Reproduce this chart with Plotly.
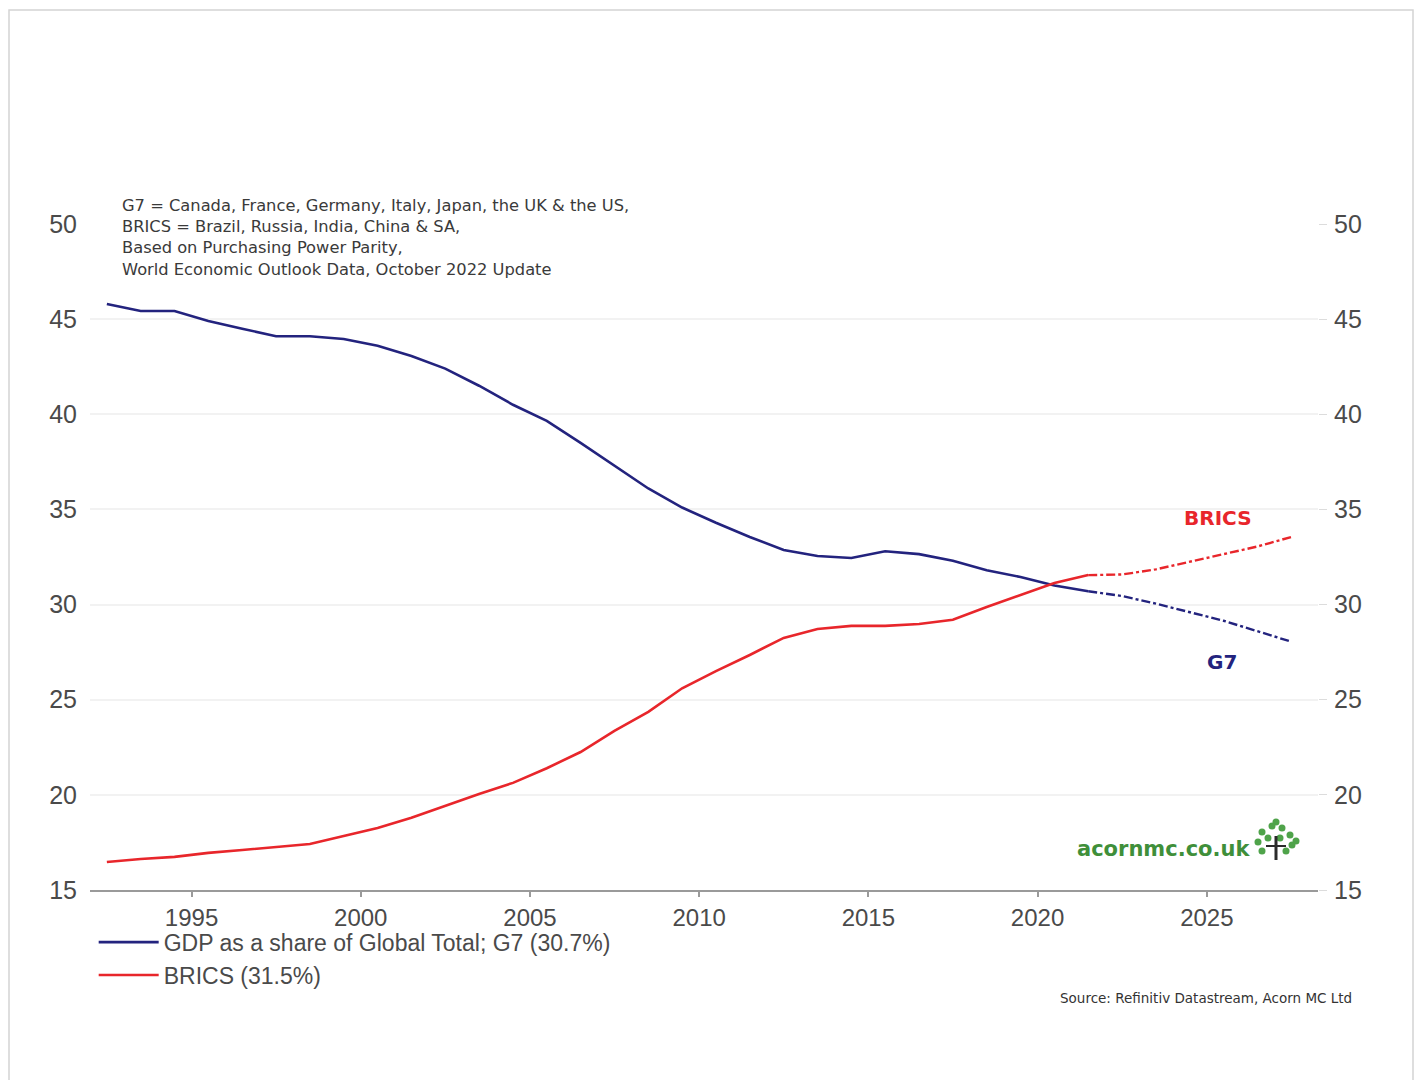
import plotly.graph_objects as go

years = list(range(1992, 2028))
g7 = [45.8, 45.43, 45.43, 44.9, 44.5, 44.1, 44.1, 43.96, 43.6, 43.06,
      42.4, 41.5, 40.5, 39.65, 38.5, 37.3, 36.1, 35.1, 34.3, 33.55,
      32.87, 32.55, 32.45, 32.8, 32.65, 32.3, 31.8, 31.45, 31.0, 30.7,
      30.45, 30.05, 29.6, 29.15, 28.6, 28.05]
brics = [16.47, 16.63, 16.74, 16.95, 17.1, 17.26, 17.42, 17.84, 18.26, 18.8,
         19.42, 20.05, 20.63, 21.4, 22.25, 23.36, 24.36, 25.6, 26.5, 27.35,
         28.25, 28.72, 28.88, 28.88, 28.98, 29.2, 29.87, 30.5, 31.13, 31.55,
         31.58, 31.85, 32.25, 32.65, 33.05, 33.55]
last_actual = 2021
tick_years = [1995, 2000, 2005, 2010, 2015, 2020, 2025]
y_ticks = [15, 20, 25, 30, 35, 40, 45, 50]

G7_COL = "#23237e"
BR_COL = "#e8262b"

dates = [f"{y}-07-01" for y in years]
n_act = years.index(last_actual) + 1

fig = go.Figure()
fig.add_trace(go.Scatter(x=dates[:n_act], y=g7[:n_act], mode="lines",
                         line=dict(color=G7_COL, width=2.6),
                         name="GDP as a share of Global Total; G7 (30.7%)"))
fig.add_trace(go.Scatter(x=dates[:n_act], y=brics[:n_act], mode="lines",
                         line=dict(color=BR_COL, width=2.6),
                         name="BRICS (31.5%)"))
fig.add_trace(go.Scatter(x=dates[n_act - 1:], y=g7[n_act - 1:], mode="lines",
                         line=dict(color=G7_COL, width=2.4, dash="dashdot"),
                         showlegend=False))
fig.add_trace(go.Scatter(x=dates[n_act - 1:], y=brics[n_act - 1:], mode="lines",
                         line=dict(color=BR_COL, width=2.4, dash="dashdot"),
                         showlegend=False))
# invisible trace to activate right axis
fig.add_trace(go.Scatter(x=[dates[0]], y=[g7[0]], yaxis="y2", mode="lines",
                         line=dict(width=0), showlegend=False, hoverinfo="skip"))

xtick_font = dict(family="Liberation Sans, Arial", size=24, color="#4a4a4a")
ytick_font = dict(family="Liberation Sans, Arial", size=25, color="#4a4a4a")

fig.update_layout(
    width=1418, height=1080,
    margin=dict(l=90, r=100, t=224, b=190),
    paper_bgcolor="white", plot_bgcolor="white",
    showlegend=True,
    legend=dict(x=0.003, y=-0.046, xanchor="left", yanchor="top",
                font=dict(family="Liberation Sans, Arial", size=23, color="#4a4a4a"),
                tracegroupgap=0, itemwidth=60, bgcolor="rgba(0,0,0,0)"),
    xaxis=dict(type="date", range=["1992-01-01", "2028-04-15"],
               tickvals=[f"{y}-01-01" for y in tick_years],
               ticktext=[str(y) for y in tick_years],
               tickfont=xtick_font, showgrid=False, zeroline=False,
               showline=True, linecolor="#9a9a9a", linewidth=2,
               ticks="outside", ticklen=5, tickcolor="#9a9a9a", tickwidth=2),
    yaxis=dict(range=[15, 50], tickvals=y_ticks, tickfont=ytick_font,
               showgrid=True, gridcolor="#f2f2f2", gridwidth=1.5,
               zeroline=False, showline=False, ticks="", ticklabelstandoff=12),
    yaxis2=dict(range=[15, 50], tickvals=y_ticks, tickfont=ytick_font,
                overlaying="y", side="right", showgrid=False, zeroline=False,
                showline=False, ticks="outside", ticklen=8, tickcolor="#dcdcdc",
                ticklabelstandoff=2),
)

notes = ("G7 = Canada, France, Germany, Italy, Japan, the UK & the US,<br>"
         "BRICS = Brazil, Russia, India, China & SA,<br>"
         "Based on Purchasing Power Parity,<br>"
         "World Economic Outlook Data, October 2022 Update")
fig.add_annotation(xref="paper", yref="paper", x=(120 - 90) / 1228, y=1 + (224 - 194) / 666,
                   xanchor="left", yanchor="top", align="left", showarrow=False,
                   text=notes, font=dict(family="DejaVu Sans", size=16.3, color="#3a3a3a"))
fig.add_annotation(xref="paper", yref="paper", x=(1218 - 90) / 1228, y=(890 - 518) / 666,
                   xanchor="center", yanchor="middle",
                   text="<b>BRICS</b>", showarrow=False,
                   font=dict(family="DejaVu Sans", size=20, color=BR_COL))
fig.add_annotation(xref="paper", yref="paper", x=(1222 - 90) / 1228, y=(890 - 662) / 666,
                   xanchor="center", yanchor="middle",
                   text="<b>G7</b>", showarrow=False,
                   font=dict(family="DejaVu Sans", size=20, color=G7_COL))
fig.add_annotation(xref="paper", yref="paper", x=(1252 - 90) / 1228, y=(890 - 849) / 666,
                   xanchor="right", yanchor="middle", text="<b>acornmc.co.uk</b>",
                   showarrow=False,
                   font=dict(family="DejaVu Sans", size=21, color="#3f8f3a"))
fig.add_annotation(xref="paper", yref="paper", x=(1354 - 90) / 1228, y=(890 - 998) / 666,
                   xanchor="right", yanchor="middle",
                   text="Source: Refinitiv Datastream, Acorn MC Ltd",
                   showarrow=False,
                   font=dict(family="DejaVu Sans", size=13.5, color="#333333"))

# tree logo made of simple shapes (paper-pixel coordinates)
def px(xp, yp):
    return (xp - 90) / 1228, (890 - yp) / 666
leaf_centres = [(1262, 832), (1272, 826), (1282, 828), (1290, 835), (1258, 842),
                (1268, 838), (1280, 838), (1292, 845), (1262, 851), (1286, 851),
                (1276, 822), (1296, 841)]
for cx, cy in leaf_centres:
    x0, y0 = px(cx - 3.5, cy + 3.5)
    x1, y1 = px(cx + 3.5, cy - 3.5)
    fig.add_shape(type="circle", xref="paper", yref="paper", x0=x0, y0=y0, x1=x1, y1=y1,
                  fillcolor="#4fa34a", line=dict(width=0))
tx0, ty0 = px(1276, 836)
tx1, ty1 = px(1276, 860)
fig.add_shape(type="line", xref="paper", yref="paper", x0=tx0, y0=ty0, x1=tx1, y1=ty1,
              line=dict(color="#2b2b2b", width=3))
bx0, by0 = px(1266, 846)
bx1, by1 = px(1286, 846)
fig.add_shape(type="line", xref="paper", yref="paper", x0=bx0, y0=by0, x1=bx1, y1=by1,
              line=dict(color="#2b2b2b", width=2))

# outer light border
fig.add_shape(type="rect", xref="paper", yref="paper",
              x0=(9 - 90) / 1228, y0=(890 - 1100) / 666,
              x1=(1413 - 90) / 1228, y1=(890 - 10) / 666,
              line=dict(color="#d4d4d4", width=1.5), fillcolor="rgba(0,0,0,0)", layer="below")

fig.write_html("out.html")
